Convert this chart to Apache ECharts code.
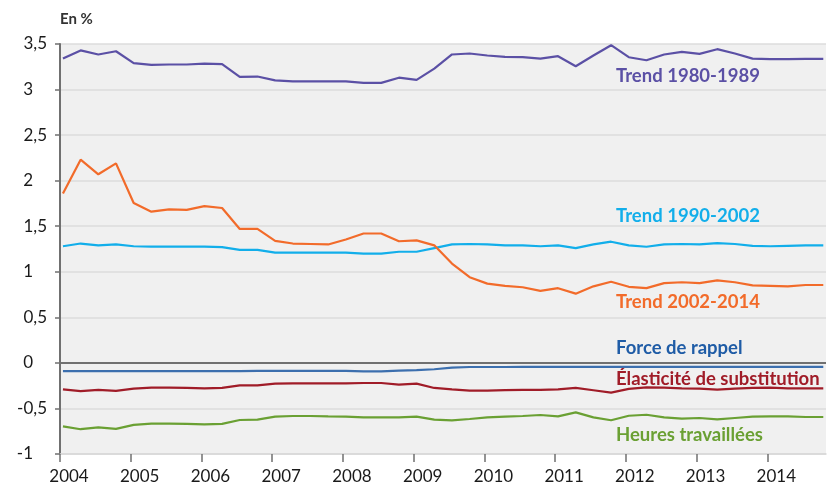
<!DOCTYPE html>
<html>
<head>
<meta charset="utf-8">
<script src="https://cdn.jsdelivr.net/npm/echarts@6/dist/echarts.min.js"></script>
<style>
  html, body { margin: 0; padding: 0; background: #fff; }
  #main { width: 828px; height: 487px; }
</style>
</head>
<body>
<div id="main"></div>
<script>
// années affichées et trimestres (2004T1 .. 2014T4)
var years = [2004, 2005, 2006, 2007, 2008, 2009, 2010, 2011, 2012, 2013, 2014];
var quarters = [];
years.forEach(function (y) { for (var q = 1; q <= 4; q++) quarters.push(y + 'T' + q); });

// contributions, en %
var trend8089 = [3.34, 3.43, 3.385, 3.42, 3.29, 3.27, 3.275, 3.275, 3.285, 3.28,
  3.14, 3.143, 3.10, 3.09, 3.09, 3.09, 3.09, 3.073, 3.073, 3.13,
  3.106, 3.23, 3.385, 3.396, 3.374, 3.359, 3.355, 3.34, 3.366, 3.256,
  3.374, 3.487, 3.355, 3.322, 3.385, 3.414, 3.392, 3.443, 3.396, 3.34,
  3.333, 3.333, 3.337, 3.337];
var trend9002 = [1.28, 1.31, 1.29, 1.30, 1.28, 1.275, 1.275, 1.275, 1.275, 1.27,
  1.24, 1.24, 1.21, 1.21, 1.21, 1.21, 1.21, 1.20, 1.20, 1.22,
  1.22, 1.26, 1.30, 1.305, 1.30, 1.29, 1.29, 1.28, 1.29, 1.26,
  1.30, 1.33, 1.29, 1.275, 1.30, 1.305, 1.30, 1.315, 1.305, 1.285,
  1.28, 1.285, 1.29, 1.29];
var trend0214 = [1.86, 2.23, 2.07, 2.19, 1.755, 1.66, 1.685, 1.68, 1.72, 1.70,
  1.47, 1.47, 1.34, 1.31, 1.305, 1.30, 1.355, 1.42, 1.42, 1.335,
  1.345, 1.29, 1.09, 0.94, 0.87, 0.845, 0.83, 0.79, 0.82, 0.76,
  0.84, 0.89, 0.835, 0.82, 0.875, 0.885, 0.875, 0.905, 0.885, 0.85,
  0.845, 0.84, 0.855, 0.855];
var forceRappel = [-0.09, -0.09, -0.09, -0.09, -0.09, -0.09, -0.09, -0.09, -0.09, -0.09,
  -0.09, -0.088, -0.088, -0.088, -0.088, -0.088, -0.088, -0.094, -0.094, -0.085,
  -0.08, -0.07, -0.052, -0.045, -0.045, -0.045, -0.044, -0.044, -0.044, -0.044,
  -0.044, -0.043, -0.043, -0.043, -0.043, -0.043, -0.043, -0.043, -0.043, -0.043,
  -0.043, -0.043, -0.043, -0.043];
var elasticite = [-0.29, -0.31, -0.297, -0.308, -0.283, -0.272, -0.272, -0.275, -0.279, -0.275,
  -0.246, -0.246, -0.228, -0.225, -0.225, -0.225, -0.225, -0.221, -0.221, -0.239,
  -0.228, -0.275, -0.29, -0.304, -0.304, -0.30, -0.297, -0.297, -0.29, -0.275,
  -0.30, -0.326, -0.285, -0.268, -0.272, -0.279, -0.283, -0.293, -0.283, -0.275,
  -0.272, -0.279, -0.279, -0.279];
var heures = [-0.696, -0.728, -0.707, -0.725, -0.681, -0.667, -0.667, -0.67, -0.674, -0.67,
  -0.627, -0.623, -0.59, -0.583, -0.583, -0.587, -0.59, -0.598, -0.598, -0.598,
  -0.59, -0.623, -0.63, -0.616, -0.598, -0.59, -0.583, -0.572, -0.587, -0.543,
  -0.598, -0.63, -0.58, -0.569, -0.598, -0.612, -0.605, -0.62, -0.605, -0.59,
  -0.587, -0.587, -0.594, -0.594];

var FONT = 'Lato, "Open Sans", sans-serif';

// un trimestre est placé au milieu de son premier mois
function qx(label) {
  var y = parseInt(label.slice(0, 4), 10);
  var q = parseInt(label.slice(5), 10);
  return y + (3 * (q - 1) + 0.5) / 12;
}
function pts(vals) {
  return quarters.map(function (q, k) { return [qx(q), vals[k]]; });
}
function line(name, vals, color, extra) {
  var s = {
    name: name, type: 'line', data: pts(vals), symbol: 'none', silent: true,
    lineStyle: { color: color, width: 2.2 }, z: 3
  };
  if (extra) for (var k in extra) s[k] = extra[k];
  return s;
}
function note(text, x, y, color) {
  return { type: 'text', x: x, y: y, style: { text: text, fill: color, font: 'bold 18.5px ' + FONT, verticalAlign: 'middle' } };
}

var chart = echarts.init(document.getElementById('main'));
chart.setOption({
  animation: false,
  grid: { left: 60, right: 2, top: 44, bottom: 33, show: true, backgroundColor: '#f0f0f0', borderWidth: 0 },
  xAxis: {
    type: 'value', min: 2004, max: 2014.83,
    axisLine: { show: true, onZero: false, lineStyle: { color: '#d8d8d8', width: 1.5 } },
    axisTick: { show: true, length: 8, customValues: years, lineStyle: { color: '#707070', width: 1.5 } },
    axisLabel: {
      customValues: years, margin: 14, padding: [0, 0, 0, 18], fontSize: 17, color: '#1a1a1a', fontFamily: FONT,
      formatter: function (v) { return String(v); }
    },
    splitLine: { show: false }
  },
  yAxis: {
    type: 'value', min: -1, max: 3.5, interval: 0.5,
    axisLine: { show: true, lineStyle: { color: '#707070', width: 2 } },
    axisTick: { show: true, length: 5, lineStyle: { color: '#707070', width: 1.5 } },
    splitLine: { lineStyle: { color: '#dcdcdc', width: 1.5 } },
    axisLabel: {
      margin: 13, fontSize: 17, color: '#1a1a1a', fontFamily: FONT,
      formatter: function (v) {
        var s = String(v).replace('.', ',');
        return Number.isInteger(v) ? '{i|' + s + '}' : s;
      },
      rich: { i: { padding: [0, 14, 0, 0], fontSize: 17, color: '#1a1a1a', fontFamily: FONT } }
    }
  },
  series: [
    line('Trend 1980-1989', trend8089, '#5b50a5'),
    line('Trend 1990-2002', trend9002, '#12aeea'),
    line('Trend 2002-2014', trend0214, '#f26b2a'),
    line('Force de rappel', forceRappel, '#3c6fae', {
      markLine: {
        silent: true, symbol: ['none', 'none'], label: { show: false },
        lineStyle: { color: '#707070', width: 2, type: 'solid' },
        data: [{ yAxis: 0 }]
      }
    }),
    line('Élasticité de substitution', elasticite, '#a01c28'),
    line('Heures travaillées', heures, '#6aa033')
  ],
  graphic: [
    { type: 'text', x: 60, y: 19, style: { text: 'En %', fill: '#333', font: 'bold 15px ' + FONT, verticalAlign: 'middle' } },
    note('Trend 1980-1989', 616, 76, '#5b50a5'),
    note('Trend 1990-2002', 616, 216, '#12aeea'),
    note('Trend 2002-2014', 616, 302, '#f26b2a'),
    note('Force de rappel', 616, 348, '#1f5ca6'),
    note('Élasticité de substitution', 616, 379.5, '#a01c28'),
    note('Heures travaillées', 616, 435, '#6aa033')
  ]
});
</script>
</body>
</html>
